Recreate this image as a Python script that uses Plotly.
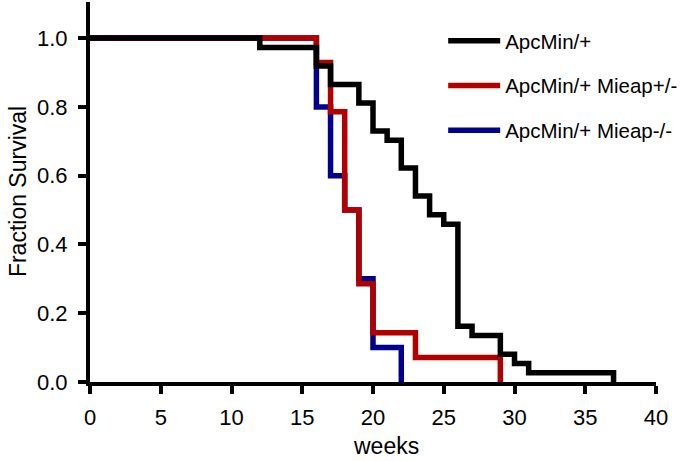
import plotly.graph_objects as go

# Kaplan-Meier style survival steps (weeks, fraction surviving)
apc_weeks = [0, 12, 16, 17, 19, 20, 21, 22, 23, 24, 25, 26, 27, 29, 30, 31, 37]
apc_surv = [1.0, 0.973, 0.919, 0.865, 0.811, 0.730, 0.703, 0.622, 0.541,
            0.486, 0.459, 0.162, 0.135, 0.081, 0.054, 0.027, 0.0]

het_weeks = [0, 16, 17, 18, 19, 20, 23, 29]
het_surv = [1.0, 0.929, 0.786, 0.5, 0.286, 0.143, 0.071, 0.0]

ko_weeks = [0, 16, 17, 18, 19, 20, 22]
ko_surv = [1.0, 0.8, 0.6, 0.5, 0.3, 0.1, 0.0]

names = ["ApcMin/+", "ApcMin/+ Mieap+/-", "ApcMin/+ Mieap-/-"]
colors = ["#000000", "#B00000", "#00008C"]

x_ticks = [0, 5, 10, 15, 20, 25, 30, 35, 40]
y_ticks = [0.0, 0.2, 0.4, 0.6, 0.8, 1.0]

FONT = "Liberation Sans, Arial, sans-serif"

fig = go.Figure()
# draw order: blue bottom, red, black on top
series = [(ko_weeks, ko_surv, 2), (het_weeks, het_surv, 1), (apc_weeks, apc_surv, 0)]
for xs, ys, i in series:
    fig.add_trace(go.Scatter(
        x=xs, y=ys, mode="lines", line_shape="hv",
        line=dict(color=colors[i], width=5.5),
        name=names[i], legendgroup=f"g{i}", legendrank=i + 1,
    ))

fig.update_layout(
    width=685, height=461,
    margin=dict(l=90, r=27, t=2, b=79),
    plot_bgcolor="white", paper_bgcolor="white",
    font=dict(family=FONT, size=22, color="black"),
    showlegend=True,
    legend=dict(
        x=0.624, y=0.95, xanchor="left", yanchor="top",
        bgcolor="rgba(0,0,0,0)", borderwidth=0,
        font=dict(family=FONT, size=20.5, color="black"),
        tracegroupgap=15, itemwidth=52, traceorder="grouped",
    ),
)

fig.update_xaxes(
    range=[0, 40], tickvals=x_ticks, ticktext=[str(v) for v in x_ticks],
    showline=True, linewidth=4, linecolor="black", mirror=False,
    ticks="outside", ticklen=8, tickwidth=3.5, tickcolor="black",
    showgrid=False, zeroline=False, ticklabelstandoff=5,
    tickfont=dict(family=FONT, size=22),
    title=None,
)
fig.update_yaxes(
    range=[0, 1.105], tickvals=y_ticks, ticktext=[f"{v:.1f}" for v in y_ticks],
    showline=True, linewidth=4, linecolor="black",
    ticks="outside", ticklen=8, tickwidth=3.5, tickcolor="black",
    showgrid=False, zeroline=False, ticklabelstandoff=6,
    tickfont=dict(family=FONT, size=22),
    title=None,
)

fig.add_annotation(text="weeks", xref="paper", yref="paper",
                   x=0.523, y=-0.168, xanchor="center", yanchor="middle",
                   showarrow=False, font=dict(family=FONT, size=23))
fig.add_annotation(text="Fraction Survival", xref="paper", yref="paper",
                   x=-0.127, y=0.5, xanchor="center", yanchor="middle",
                   textangle=-90, showarrow=False, font=dict(family=FONT, size=23))

fig.write_html("out.html", config={"displayModeBar": False},
               post_script="document.body.style.margin='0';")
